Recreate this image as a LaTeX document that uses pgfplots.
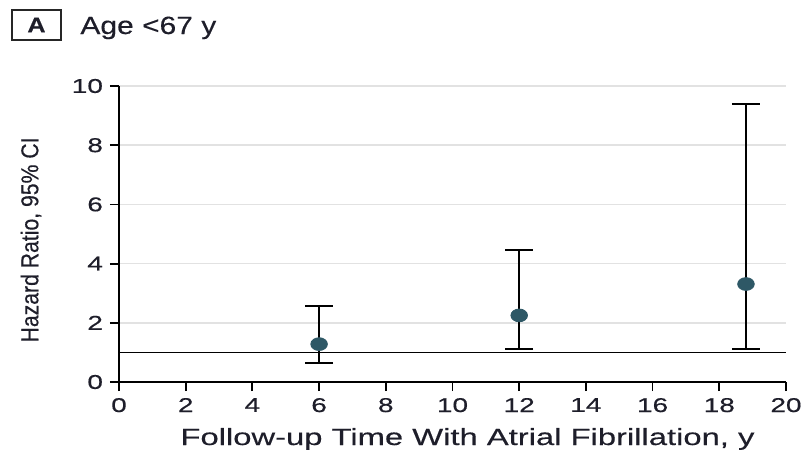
\documentclass[border=0pt]{standalone}
\usepackage{fontspec}
\setmainfont{Liberation Sans}[FakeStretch=1.4, FakeBold=0.4]
\newfontfamily\ylabfont{Liberation Sans}[FakeBold=0.4]
\newfontfamily\titlefont{Liberation Sans}[FakeStretch=1.2, FakeBold=0.3]
\usepackage{pgfplots}
\pgfplotsset{compat=1.18}
\usepackage{xcolor}
\definecolor{dotteal}{HTML}{2E5866}
\definecolor{gridgray}{HTML}{E2E2E2}
\definecolor{txt}{HTML}{1E1E2A}

\begin{document}
\begin{tikzpicture}
\begin{axis}[
    scale only axis,
    width=333.5pt, height=148pt,
    xmin=0, xmax=20, ymin=0, ymax=10,
    xtick={0,2,...,20}, ytick={0,2,...,10},
    axis x line*=bottom, axis y line*=left,
    axis line style={line width=0.9pt, -},
    tick align=outside,
    major tick length=4.5pt,
    tick style={line width=0.9pt, black},
    ymajorgrids,
    grid style={gridgray, line width=0.8pt},
    /pgf/number format/assume math mode=true,
    tick label style={font=\fontsize{10}{11}\selectfont, text=txt},
    xlabel={Follow-up Time With Atrial Fibrillation, y},
    xlabel style={font=\fontsize{11.7}{13}\selectfont, text=txt,
        at={(axis description cs:0.5,0)}, anchor=base, yshift=-31.5pt, xshift=7.5pt},
    ylabel={\ylabfont\scalebox{1}[1.15]{Hazard Ratio, 95\% CI}},
    ylabel style={font=\fontsize{10.6}{12}\selectfont, text=txt,
        at={(axis description cs:0,0.48)}, anchor=center, yshift=44pt},
    clip=false,
]
% reference line at HR = 1
\addplot[black, line width=0.8pt, no marks] coordinates {(0,1) (20,1)};
% confidence intervals
\addplot[black, only marks, mark=none,
    error bars/.cd, y dir=both, y explicit,
    error bar style={line width=0.9pt},
    error mark options={rotate=90, mark size=7pt, line width=0.9pt}]
    coordinates {
    (6,1.28) += (0,1.30) -= (0,0.65)
    (12,2.25) += (0,2.21) -= (0,1.14)
    (18.8,3.31) += (0,6.07) -= (0,2.20)
};
% point estimates
\addplot[only marks, mark=*, mark size=3.2pt,
    mark options={fill=dotteal, draw=dotteal, xscale=1.3}]
    coordinates {(6,1.28) (12,2.25) (18.8,3.31)};
\end{axis}
% panel label and title
\draw[line width=1pt, black!85] (-53.5pt,171pt) rectangle (-29pt,186pt);
\node[font=\titlefont\bfseries\fontsize{10.5}{12}\selectfont, text=txt] at (-41.25pt,178.5pt) {A};
\node[font=\titlefont\fontsize{12.5}{14}\selectfont, text=txt, anchor=base west, inner sep=0pt]
    at (-19.5pt,174pt) {Age <67 y};
\pgfresetboundingbox
\path (-59.5pt,-35pt) rectangle (343pt,191pt);
\end{tikzpicture}
\end{document}
